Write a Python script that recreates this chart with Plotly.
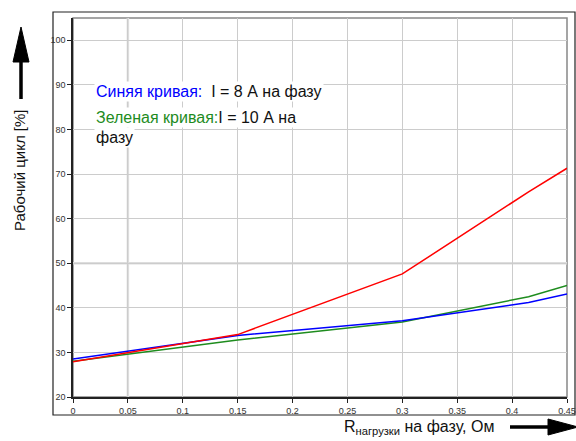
import plotly.graph_objects as go

# Data
x_red = [0.0, 0.15, 0.30, 0.415, 0.45]
y_red = [27.9, 34.0, 47.6, 66.0, 71.3]
x_blue = [0.0, 0.15, 0.30, 0.415, 0.45]
y_blue = [28.5, 33.8, 37.1, 41.2, 43.1]
x_green = [0.0, 0.15, 0.30, 0.415, 0.45]
y_green = [28.0, 32.8, 36.8, 42.5, 45.0]

x_ticks = [0, 0.05, 0.1, 0.15, 0.2, 0.25, 0.3, 0.35, 0.4, 0.45]
x_tick_text = ["0", "0.05", "0.1", "0.15", "0.2", "0.25", "0.3", "0.35", "0.4", "0.45"]
y_ticks = [20, 30, 40, 50, 60, 70, 80, 90, 100]

W, H = 576, 441
L, R, T, B = 73, 9, 18, 44
PW, PH = W - L - R, H - T - B


def px(xp):
    return (xp - L) / PW


def py(yp):
    return (H - B - yp) / PH


FONT = "Liberation Sans, Arial, sans-serif"

fig = go.Figure()
fig.add_trace(go.Scatter(x=x_green, y=y_green, mode="lines",
                         line=dict(color="#1e8c1e", width=1.5), showlegend=False))
fig.add_trace(go.Scatter(x=x_blue, y=y_blue, mode="lines",
                         line=dict(color="#0000ff", width=1.5), showlegend=False))
fig.add_trace(go.Scatter(x=x_red, y=y_red, mode="lines",
                         line=dict(color="#ff0000", width=1.5), showlegend=False))

shapes = [
    # outer frame
    dict(type="rect", xref="paper", yref="paper", x0=px(53), x1=px(575),
         y0=py(415), y1=py(12), line=dict(color="#222", width=1.2), layer="below"),
    # plot frame
    dict(type="rect", xref="paper", yref="paper", x0=0, x1=1, y0=0, y1=1,
         line=dict(color="#888", width=1.5), layer="below"),
    # slightly emphasised grid lines (as in the reference)
    dict(type="line", xref="x", yref="paper", x0=x_ticks[1], x1=x_ticks[1], y0=0, y1=1,
         line=dict(color="#dddddd", width=2.5), layer="below"),
    dict(type="line", xref="paper", yref="y", x0=0, x1=1, y0=y_ticks[3], y1=y_ticks[3],
         line=dict(color="#dddddd", width=2.5), layer="below"),
    # y arrow shaft
    dict(type="line", xref="paper", yref="paper", x0=px(21), x1=px(21),
         y0=py(99), y1=py(60), line=dict(color="black", width=3.5)),
    # y arrow head
    dict(type="path", xref="paper", yref="paper",
         path=f"M {px(13)} {py(62)} L {px(29)} {py(62)} L {px(21)} {py(27)} Z",
         fillcolor="black", line=dict(color="black", width=1)),
    # x arrow shaft
    dict(type="line", xref="paper", yref="paper", x0=px(510), x1=px(550),
         y0=py(427), y1=py(427), line=dict(color="black", width=3.5)),
    # x arrow head
    dict(type="path", xref="paper", yref="paper",
         path=f"M {px(548)} {py(419)} L {px(548)} {py(435)} L {px(578)} {py(427)} Z",
         fillcolor="black", line=dict(color="black", width=1)),
]

ann_font = dict(family=FONT, size=16, color="#111")
annotations = [
    dict(xref="paper", yref="paper", x=px(94), y=py(92), xanchor="left", yanchor="middle",
         text="<span style='color:#0000ff'>Синяя кривая:</span>  I = 8 А на фазу",
         showarrow=False, bgcolor="white", font=ann_font, align="left"),
    dict(xref="paper", yref="paper", x=px(94), y=py(118), xanchor="left", yanchor="middle",
         text="<span style='color:#1e8c1e'>Зеленая кривая:</span>I = 10 А на",
         showarrow=False, bgcolor="white", font=ann_font, align="left"),
    dict(xref="paper", yref="paper", x=px(94), y=py(137), xanchor="left", yanchor="middle",
         text="фазу", showarrow=False, bgcolor="white", font=ann_font, align="left"),
    dict(xref="paper", yref="paper", x=px(19), y=py(170), xanchor="center", yanchor="middle",
         text="Рабочий цикл [%]", textangle=-90, showarrow=False,
         font=dict(family=FONT, size=15, color="#111")),
    dict(xref="paper", yref="paper", x=px(342), y=py(427), xanchor="left", yanchor="middle",
         text="R<sub>нагрузки</sub> на фазу, Ом", showarrow=False,
         font=dict(family=FONT, size=16, color="#111")),
]

fig.update_layout(
    width=W, height=H, autosize=False,
    margin=dict(l=L, r=R, t=T, b=B, pad=0),
    paper_bgcolor="white", plot_bgcolor="white",
    shapes=shapes, annotations=annotations,
    font=dict(family=FONT, size=9, color="#333"),
    xaxis=dict(range=[0, 0.45], tickvals=x_ticks, ticktext=x_tick_text,
               automargin=False,
               showgrid=True, gridcolor="#cccccc", gridwidth=1,
               showline=True, linecolor="#222", linewidth=1.5,
               ticks="outside", ticklen=4, tickcolor="#222", zeroline=False,
               tickfont=dict(size=9, color="#333")),
    yaxis=dict(range=[20, 105], tickvals=y_ticks, automargin=False,
               showgrid=True, gridcolor="#cccccc", gridwidth=1,
               showline=True, linecolor="#222", linewidth=1.5,
               ticks="outside", ticklen=4, tickcolor="#222", zeroline=False,
               tickfont=dict(size=9, color="#333")),
)

fig.write_html(
    "out.html",
    config={"displayModeBar": False, "responsive": False},
    post_script="document.body.style.margin='0px';document.body.style.overflow='hidden';",
)
